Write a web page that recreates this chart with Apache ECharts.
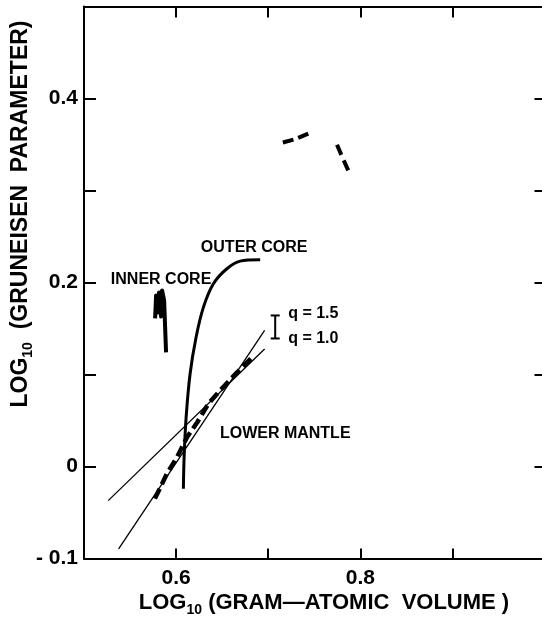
<!DOCTYPE html>
<html>
<head>
<meta charset="utf-8">
<script src="https://cdn.jsdelivr.net/npm/echarts@6/dist/echarts.min.js"></script>
<style>
  html, body { margin: 0; padding: 0; background: #ffffff; }
  #chart { width: 542px; height: 621px; }
</style>
</head>
<body>
<div id="chart"></div>
<script>
// ---- Data ----
const xTickLabels = { '0.6': '0.6', '0.8': '0.8', '1.0': '1.0' };
const yTickLabels = { '0.4': '0.4', '0.2': '0.2', '0.0': '0', '-0.1': '- 0.1' };

// reference lines of slope q = 1.0 and q = 1.5
const lineQ10 = [[0.5263, -0.0372], [0.6961, 0.1277]];
const lineQ15 = [[0.5376, -0.0897], [0.6961, 0.1479]];

// lower mantle (thick dashed)
const lowerMantle = [
  [0.577, -0.035], [0.590, -0.008], [0.601, 0.010], [0.612, 0.032],
  [0.623, 0.048], [0.635, 0.068], [0.650, 0.085], [0.666, 0.102], [0.683, 0.119]
];

// outer core (thick solid)
const outerCore = [
  [0.6079, -0.0242], [0.6087, 0.0101], [0.6109, 0.0536], [0.6152, 0.1007],
  [0.6217, 0.1405], [0.6297, 0.1732], [0.6405, 0.1986], [0.6551, 0.2149],
  [0.6696, 0.2232], [0.6913, 0.2247]
];

// inner core (short thick scribble)
const innerCore = [
  [0.5772, 0.1609], [0.5783, 0.1859], [0.5804, 0.1674], [0.5815, 0.1891],
  [0.5837, 0.1630], [0.5848, 0.1913], [0.5870, 0.1804], [0.5891, 0.1239]
];

// upper dashed segments
const upperDashA = [[0.7159, 0.3522], [0.7300, 0.3560], [0.7440, 0.3620]];
const upperDashB = [[0.7747, 0.3497], [0.7810, 0.3350], [0.7886, 0.3179]];

// q scale bar: [x, top, bottom]
const qBar = [[0.7076, 0.1641, 0.1391]];

// annotations: [text, x, y, align]
const annotations = [
  ['OUTER CORE', 0.6848, 0.2380, 'center'],
  ['INNER CORE', 0.5837, 0.2033, 'center'],
  ['LOWER MANTLE', 0.7185, 0.0359, 'center'],
  ['q = 1.5', 0.7217, 0.1663, 'left'],
  ['q = 1.0', 0.7217, 0.1391, 'left']
];

// ---- Chart ----
const FONT = 'Liberation Sans, Arial, sans-serif';
const BLACK = '#000000';
const chart = echarts.init(document.getElementById('chart'), null, { renderer: 'canvas' });

function lineSeries(data, width, type) {
  return {
    type: 'line', data: data, showSymbol: false, symbol: 'none',
    xAxisIndex: 0, yAxisIndex: 0, animation: false, silent: true,
    lineStyle: { color: BLACK, width: width, type: type || 'solid', cap: 'butt', join: 'round', opacity: 1 }
  };
}

const option = {
  backgroundColor: '#ffffff',
  animation: false,
  grid: { left: 84, right: -2.5, top: 6.5, bottom: 62.6, outerBoundsMode: 'none', containLabel: false },
  xAxis: [
    {
      type: 'value', position: 'bottom', min: 0.5, max: 1.0, interval: 0.1,
      axisLine: { show: true, onZero: false, lineStyle: { color: BLACK, width: 2 } },
      axisTick: { show: true, inside: true, length: 10, lineStyle: { color: BLACK, width: 2 } },
      splitLine: { show: false },
      axisLabel: {
        show: true, margin: 9, showMinLabel: true, showMaxLabel: true, hideOverlap: false,
        color: BLACK, fontFamily: FONT, fontSize: 21, fontWeight: 'bold',
        formatter: function (v) {
          const k = (Math.round(v * 10) / 10).toFixed(1);
          if (k === '1.0') return '{r|' + xTickLabels[k] + '}';
          return xTickLabels[k] || '';
        },
        rich: { r: { color: BLACK, fontFamily: FONT, fontSize: 21, fontWeight: 'bold', padding: [0, 0, 0, 22] } }
      }
    },
    {
      type: 'value', position: 'top', min: 0.5, max: 1.0, interval: 0.1,
      axisLine: { show: true, onZero: false, lineStyle: { color: BLACK, width: 2 } },
      axisTick: { show: true, inside: true, length: 11, lineStyle: { color: BLACK, width: 2 } },
      splitLine: { show: false }, axisLabel: { show: false }
    }
  ],
  yAxis: [
    {
      type: 'value', position: 'left', min: -0.1, max: 0.5, interval: 0.1,
      axisLine: { show: true, onZero: false, lineStyle: { color: BLACK, width: 2 } },
      axisTick: { show: true, inside: true, length: 12, lineStyle: { color: BLACK, width: 2 } },
      splitLine: { show: false },
      axisLabel: {
        show: true, margin: 6, showMinLabel: true, showMaxLabel: true, hideOverlap: false,
        color: BLACK, fontFamily: FONT, fontSize: 21, fontWeight: 'bold',
        formatter: function (v) {
          const k = (Math.round(v * 10) / 10).toFixed(1);
          return yTickLabels[k] || '';
        }
      }
    },
    {
      type: 'value', position: 'right', min: -0.1, max: 0.5, interval: 0.1,
      axisLine: { show: true, onZero: false, lineStyle: { color: BLACK, width: 2 } },
      axisTick: { show: true, inside: true, length: 10, lineStyle: { color: BLACK, width: 2 } },
      splitLine: { show: false }, axisLabel: { show: false }
    }
  ],
  series: [
    lineSeries(lineQ10, 1.3),
    lineSeries(lineQ15, 1.3),
    lineSeries(lowerMantle, 4.5, [11, 5]),
    Object.assign(lineSeries(outerCore, 3), { smooth: 0.3 }),
    lineSeries(innerCore, 4),
    lineSeries(upperDashA, 4, [11, 5]),
    lineSeries(upperDashB, 4, [11, 6]),
    {
      type: 'custom', xAxisIndex: 0, yAxisIndex: 0, silent: true, animation: false,
      data: qBar,
      renderItem: function (params, api) {
        const top = api.coord([api.value(0), api.value(1)]);
        const bot = api.coord([api.value(0), api.value(2)]);
        const h = 4.5;
        const st = { stroke: BLACK, lineWidth: 2 };
        return {
          type: 'group',
          children: [
            { type: 'line', shape: { x1: top[0], y1: top[1], x2: bot[0], y2: bot[1] }, style: st },
            { type: 'line', shape: { x1: top[0] - h, y1: top[1], x2: top[0] + h, y2: top[1] }, style: st },
            { type: 'line', shape: { x1: bot[0] - h, y1: bot[1], x2: bot[0] + h, y2: bot[1] }, style: st }
          ]
        };
      }
    },
    {
      type: 'scatter', xAxisIndex: 0, yAxisIndex: 0, silent: true, animation: false,
      symbolSize: 0,
      itemStyle: { opacity: 1, color: BLACK },
      data: annotations.map(function (a) {
        return { name: a[0], value: [a[1], a[2]], label: { align: a[3] } };
      }),
      label: {
        show: true, position: 'inside', formatter: '{b}', opacity: 1,
        color: BLACK, fontFamily: FONT, fontSize: 16, fontWeight: 'bold'
      }
    }
  ],
  graphic: [
    {
      type: 'text', x: 324, y: 603.5, silent: true,
      style: {
        text: '{a|LOG}{s|10}{a| (GRAM—ATOMIC  VOLUME )}',
        align: 'center', verticalAlign: 'middle',
        rich: {
          a: { fill: BLACK, fontFamily: FONT, fontSize: 22, fontWeight: 'bold', lineHeight: 24, verticalAlign: 'top' },
          s: { fill: BLACK, fontFamily: FONT, fontSize: 14, fontWeight: 'bold', lineHeight: 14, padding: [12, 0, 0, 0], verticalAlign: 'top' }
        }
      }
    },
    {
      type: 'text', x: 21, y: 214, rotation: Math.PI / 2, silent: true,
      style: {
        text: '{a|LOG}{s|10}{a|  (GRUNEISEN  PARAMETER)}',
        align: 'center', verticalAlign: 'middle',
        rich: {
          a: { fill: BLACK, fontFamily: FONT, fontSize: 23, fontWeight: 'bold', lineHeight: 24, verticalAlign: 'top' },
          s: { fill: BLACK, fontFamily: FONT, fontSize: 14, fontWeight: 'bold', lineHeight: 14, padding: [12, 0, 0, 0], verticalAlign: 'top' }
        }
      }
    }
  ]
};
chart.setOption(option);
</script>
</body>
</html>
